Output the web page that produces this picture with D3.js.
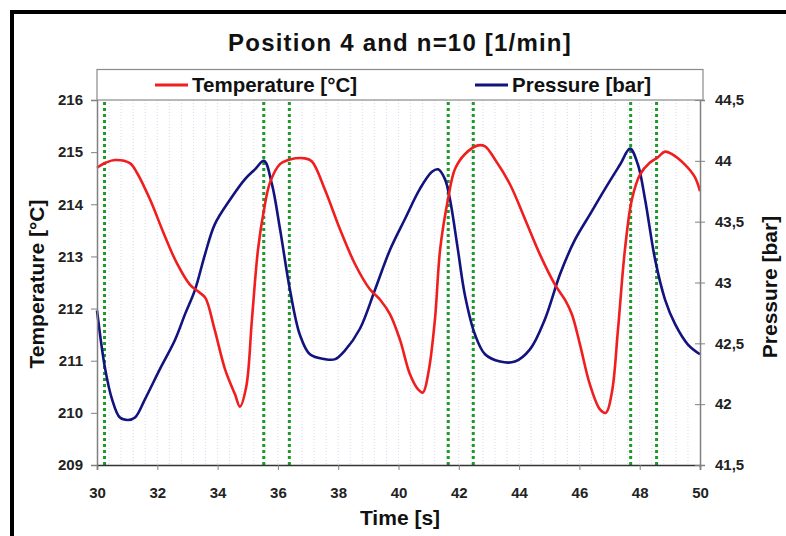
<!DOCTYPE html>
<html>
<head>
<meta charset="utf-8">
<script src="https://cdn.jsdelivr.net/npm/d3@7"></script>
<style>
  body { margin: 0; background: #fff; }
  svg { display: block; font-family: "Liberation Sans", Arial, sans-serif; }
</style>
</head>
<body>
<div id="chart"></div>
<script>
// Temperature / pressure oscillation, position 4, n=10 rpm

const tempTime = [30, 30.3, 30.6, 31.09, 31.32, 31.76, 32.2, 32.64, 33.08, 33.42, 33.6, 33.9, 34.25, 34.58, 34.74, 34.95, 35.14, 35.34, 35.54, 35.74, 36.07, 36.4, 36.9, 37.13, 37.56, 38.06, 38.56, 39.05, 39.39, 39.72, 40.05, 40.38, 40.65, 40.81, 41.0, 41.21, 41.38, 41.64, 41.87, 42.2, 42.64, 42.87, 43.2, 43.7, 44.2, 44.69, 45.19, 45.52, 45.75, 46.02, 46.35, 46.69, 46.88, 47.08, 47.28, 47.51, 47.74, 48.01, 48.34, 48.6, 48.84, 49.07, 49.5, 49.83, 50];
const tempValues = [214.7, 214.8, 214.85, 214.79, 214.61, 214.09, 213.46, 212.88, 212.46, 212.3, 212.2, 211.6, 210.83, 210.35, 210.12, 210.5, 211.8, 213.13, 213.9, 214.42, 214.77, 214.86, 214.88, 214.82, 214.28, 213.52, 212.85, 212.37, 212.17, 211.89, 211.4, 210.74, 210.45, 210.39, 210.8, 211.8, 213.13, 214.09, 214.67, 214.96, 215.13, 215.11, 214.86, 214.38, 213.71, 213.04, 212.46, 212.17, 211.89, 211.31, 210.54, 210.06, 210.0, 210.4, 211.6, 213.13, 214.09, 214.57, 214.8, 214.9, 215.01, 214.96, 214.76, 214.52, 214.25];

const pressTime = [30, 30.27, 30.5, 30.76, 31.03, 31.26, 31.59, 32.09, 32.59, 32.92, 33.25, 33.58, 33.91, 34.41, 34.91, 35.24, 35.54, 35.8, 36.07, 36.4, 36.73, 37.06, 37.56, 37.9, 38.22, 38.72, 39.22, 39.72, 40.21, 40.71, 41.11, 41.31, 41.54, 41.71, 41.97, 42.2, 42.54, 42.87, 43.37, 43.86, 44.36, 44.86, 45.36, 45.85, 46.35, 46.85, 47.35, 47.68, 47.94, 48.18, 48.51, 48.84, 49.17, 49.6, 50];
const pressValues = [42.77, 42.29, 42.04, 41.89, 41.87, 41.89, 42.04, 42.29, 42.53, 42.74, 42.94, 43.23, 43.48, 43.68, 43.85, 43.93, 44.0, 43.81, 43.44, 42.94, 42.57, 42.41, 42.37, 42.37, 42.44, 42.62, 42.94, 43.27, 43.52, 43.77, 43.91, 43.93, 43.85, 43.68, 43.27, 42.9, 42.57, 42.41, 42.35, 42.35, 42.45, 42.7, 43.07, 43.35, 43.56, 43.77, 43.97, 44.1, 43.97, 43.68, 43.19, 42.86, 42.66, 42.49, 42.41];

// green dotted marker lines
const markerTimes = [30.25, 35.53, 36.38, 41.65, 42.48, 47.7, 48.56];

const xTicks = [30, 32, 34, 36, 38, 40, 42, 44, 46, 48, 50];
const tempTicks = [209, 210, 211, 212, 213, 214, 215, 216];
const pressTicks = [41.5, 42, 42.5, 43, 43.5, 44, 44.5];

const W = 786, H = 536;
const plot = { left: 97, right: 700, top: 100, bottom: 465 };
const boldFont = size => `bold ${size}px "Liberation Sans", Arial, sans-serif`;

const svg = d3.select('#chart').append('svg')
    .attr('width', W)
    .attr('height', H);

// outer frame
svg.append('rect')
    .attr('x', 12).attr('y', 12)
    .attr('width', W + 20).attr('height', H + 20)
    .attr('fill', '#fff')
    .attr('stroke', '#000')
    .attr('stroke-width', 4);

const x = d3.scaleLinear().domain([30, 50]).range([plot.left, plot.right]);
const yT = d3.scaleLinear().domain([209, 216]).range([plot.bottom, plot.top]);
const yP = d3.scaleLinear().domain([41.5, 44.5]).range([plot.bottom, plot.top]);

// faint vertical grid every 0.4 s
svg.append('g')
    .selectAll('line')
    .data(d3.range(30.4, 49.9, 0.4))
    .join('line')
    .attr('x1', d => x(d)).attr('x2', d => x(d))
    .attr('y1', plot.top).attr('y2', plot.bottom)
    .attr('stroke', '#d9dcea')
    .attr('stroke-width', 1)
    .attr('stroke-dasharray', '1,2');

// green markers
svg.append('g')
    .selectAll('line')
    .data(markerTimes)
    .join('line')
    .attr('x1', d => x(d)).attr('x2', d => x(d))
    .attr('y1', plot.top + 2).attr('y2', plot.bottom)
    .attr('stroke', '#1f9a2a')
    .attr('stroke-width', 3)
    .attr('stroke-dasharray', '3,3');

// curves
const tempLine = d3.line()
    .x((d, i) => x(tempTime[i]))
    .y(d => yT(d))
    .curve(d3.curveCatmullRom.alpha(0.5));

const pressLine = d3.line()
    .x((d, i) => x(pressTime[i]))
    .y(d => yP(d))
    .curve(d3.curveCatmullRom.alpha(0.5));

svg.append('path')
    .datum(pressValues)
    .attr('d', pressLine)
    .attr('fill', 'none')
    .attr('stroke', '#12137e')
    .attr('stroke-width', 2.6);

svg.append('path')
    .datum(tempValues)
    .attr('d', tempLine)
    .attr('fill', 'none')
    .attr('stroke', '#f01e1e')
    .attr('stroke-width', 2.6);

// axes
const axisColor = '#808080';

const xAxis = svg.append('g')
    .attr('transform', `translate(0,${plot.bottom})`)
    .call(d3.axisBottom(x).tickValues(xTicks).tickSize(5).tickPadding(17));
xAxis.select('.domain').attr('stroke', '#333').attr('stroke-width', 1.5);

const leftAxis = svg.append('g')
    .attr('transform', `translate(${plot.left},0)`)
    .call(d3.axisLeft(yT).tickValues(tempTicks).tickFormat(d3.format('d'))
        .tickSize(6).tickPadding(8));

const rightAxis = svg.append('g')
    .attr('transform', `translate(${plot.right},0)`)
    .call(d3.axisRight(yP).tickValues(pressTicks).tickSize(5).tickPadding(10)
        .tickFormat(d => String(d).replace('.', ',')));
rightAxis.selectAll('.tick line').attr('x1', -5);

[xAxis, leftAxis, rightAxis].forEach(g => {
    g.selectAll('.tick line').attr('stroke', axisColor);
    g.selectAll('.tick text')
        .style('font', boldFont(15))
        .attr('fill', '#222');
});
leftAxis.select('.domain').attr('stroke', axisColor).attr('stroke-width', 1.5);
rightAxis.select('.domain').attr('stroke', axisColor).attr('stroke-width', 1.5);

// legend box (its lower edge closes the plot)
svg.append('rect')
    .attr('x', plot.left).attr('y', 69.5)
    .attr('width', 606).attr('height', plot.top - 69.5)
    .attr('fill', '#fff')
    .attr('stroke', '#8a8a8a')
    .attr('stroke-width', 1.2);

const legendItems = [
    { label: 'Temperature [°C]', color: '#f01e1e', x: 155 },
    { label: 'Pressure [bar]', color: '#12137e', x: 475 }
];
const leg = svg.append('g')
    .selectAll('g')
    .data(legendItems)
    .join('g')
    .attr('transform', d => `translate(${d.x},85)`);
leg.append('line')
    .attr('x1', 0).attr('x2', 33)
    .attr('stroke', d => d.color)
    .attr('stroke-width', 3);
leg.append('text')
    .attr('x', 37).attr('y', 7)
    .style('font', boldFont(20.5))
    .attr('fill', '#111')
    .text(d => d.label);

// titles
svg.append('text')
    .attr('x', 400).attr('y', 51)
    .attr('text-anchor', 'middle')
    .style('font', boldFont(24))
    .style('letter-spacing', '1.2px')
    .attr('fill', '#111')
    .text('Position 4 and n=10 [1/min]');

svg.append('text')
    .attr('x', 400).attr('y', 525)
    .attr('text-anchor', 'middle')
    .style('font', boldFont(21))
    .attr('fill', '#111')
    .text('Time [s]');

svg.append('text')
    .attr('transform', 'translate(44,284) rotate(-90)')
    .attr('text-anchor', 'middle')
    .style('font', boldFont(21))
    .attr('fill', '#111')
    .text('Temperature [°C]');

svg.append('text')
    .attr('transform', 'translate(777,287) rotate(-90)')
    .attr('text-anchor', 'middle')
    .style('font', boldFont(21))
    .attr('fill', '#111')
    .text('Pressure [bar]');
</script>
</body>
</html>
